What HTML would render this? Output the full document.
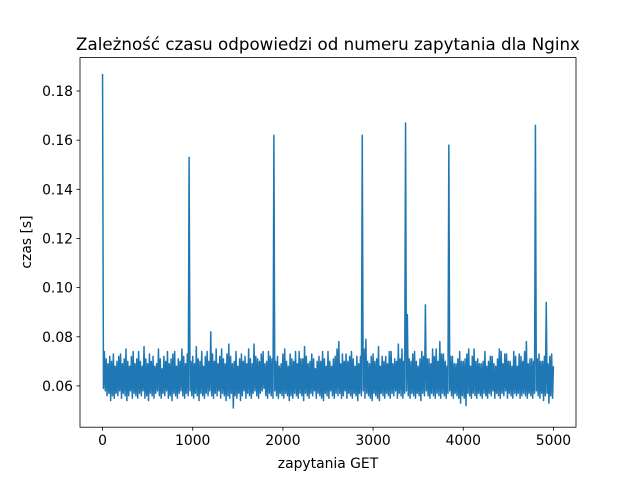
<!DOCTYPE html>
<html><head><meta charset="utf-8"><style>
body{margin:0;background:#fff;}
svg text{font-family:"DejaVu Sans","Liberation Sans",sans-serif;fill:#000;}
</style></head><body>
<svg id="chart" width="640" height="480" viewBox="0 0 640 480" xmlns="http://www.w3.org/2000/svg">
<rect width="640" height="480" fill="#fff"/>
<text x="328" y="50" font-size="16.7" text-anchor="middle">Zależność czasu odpowiedzi od numeru zapytania dla Nginx</text>
<g id="plot"></g>
<text x="328" y="468" font-size="13.9" text-anchor="middle">zapytania GET</text>
<text x="0" y="0" font-size="13.9" text-anchor="middle" transform="translate(31,242) rotate(-90)">czas [s]</text>
</svg>
<script>
const step = 20;
const highs = [
0.187,0.074,0.071,0.069,0.072,0.070,0.073,0.068,0.070,0.072,
0.073,0.069,0.071,0.075,0.070,0.068,0.072,0.074,0.069,0.071,
0.074,0.070,0.068,0.076,0.071,0.069,0.073,0.070,0.072,0.068,
0.069,0.075,0.071,0.067,0.072,0.070,0.074,0.069,0.071,0.073,
0.074,0.068,0.071,0.070,0.075,0.072,0.069,0.073,0.153,0.070,
0.072,0.069,0.076,0.071,0.070,0.074,0.068,0.072,0.074,0.070,
0.082,0.073,0.070,0.075,0.069,0.072,0.075,0.071,0.069,0.073,
0.077,0.072,0.069,0.070,0.074,0.068,0.071,0.073,0.070,0.072,
0.069,0.075,0.071,0.069,0.077,0.072,0.071,0.070,0.073,0.074,
0.069,0.070,0.074,0.072,0.071,0.162,0.070,0.072,0.068,0.069,
0.073,0.075,0.070,0.068,0.073,0.071,0.070,0.074,0.069,0.074,
0.071,0.071,0.076,0.072,0.069,0.070,0.073,0.071,0.067,0.070,
0.072,0.070,0.074,0.071,0.068,0.074,0.070,0.068,0.071,0.072,
0.075,0.078,0.069,0.073,0.070,0.073,0.070,0.072,0.074,0.071,
0.068,0.072,0.069,0.072,0.162,0.075,0.079,0.070,0.069,0.072,
0.073,0.070,0.071,0.076,0.068,0.072,0.070,0.072,0.069,0.074,
0.074,0.069,0.071,0.070,0.077,0.071,0.075,0.070,0.167,0.089,
0.071,0.070,0.073,0.074,0.070,0.068,0.071,0.074,0.072,0.093,
0.071,0.071,0.069,0.075,0.072,0.075,0.070,0.078,0.073,0.073,
0.070,0.068,0.158,0.072,0.072,0.069,0.069,0.071,0.074,0.070,
0.070,0.071,0.073,0.075,0.068,0.072,0.075,0.070,0.071,0.069,
0.069,0.070,0.074,0.068,0.070,0.072,0.072,0.069,0.068,0.071,
0.075,0.074,0.069,0.073,0.073,0.070,0.070,0.068,0.074,0.072,
0.068,0.073,0.072,0.070,0.074,0.078,0.069,0.071,0.071,0.070,
0.166,0.071,0.073,0.070,0.070,0.072,0.094,0.069,0.072,0.073,
0.068];
const lows = [
0.059,0.058,0.056,0.057,0.054,0.056,0.055,0.057,0.056,0.058,
0.055,0.057,0.056,0.054,0.056,0.058,0.055,0.057,0.056,0.055,
0.057,0.056,0.058,0.055,0.056,0.054,0.057,0.056,0.055,0.057,
0.058,0.056,0.055,0.057,0.056,0.058,0.055,0.056,0.054,0.057,
0.056,0.055,0.057,0.058,0.056,0.055,0.057,0.056,0.058,0.056,
0.055,0.057,0.056,0.054,0.057,0.056,0.055,0.057,0.056,0.058,
0.056,0.055,0.057,0.056,0.058,0.055,0.057,0.056,0.054,0.056,
0.055,0.057,0.051,0.056,0.055,0.057,0.054,0.056,0.058,0.055,
0.057,0.056,0.055,0.057,0.058,0.056,0.055,0.057,0.058,0.059,
0.056,0.055,0.057,0.056,0.055,0.058,0.056,0.055,0.057,0.056,
0.055,0.057,0.056,0.054,0.056,0.055,0.057,0.056,0.055,0.057,
0.056,0.054,0.057,0.056,0.055,0.057,0.056,0.058,0.055,0.057,
0.056,0.055,0.054,0.057,0.056,0.055,0.058,0.056,0.055,0.057,
0.056,0.057,0.055,0.056,0.058,0.055,0.057,0.056,0.055,0.057,
0.056,0.054,0.057,0.056,0.058,0.055,0.057,0.056,0.055,0.054,
0.057,0.056,0.055,0.054,0.057,0.056,0.055,0.057,0.056,0.055,
0.057,0.056,0.058,0.055,0.057,0.056,0.055,0.057,0.058,0.056,
0.055,0.057,0.056,0.055,0.057,0.056,0.054,0.057,0.056,0.058,
0.056,0.055,0.057,0.056,0.055,0.057,0.056,0.055,0.057,0.056,
0.055,0.057,0.058,0.056,0.055,0.057,0.056,0.055,0.053,0.056,
0.055,0.052,0.057,0.056,0.055,0.057,0.056,0.055,0.057,0.056,
0.055,0.057,0.056,0.055,0.057,0.056,0.058,0.055,0.057,0.056,
0.055,0.057,0.056,0.058,0.055,0.057,0.056,0.055,0.057,0.056,
0.057,0.055,0.056,0.057,0.056,0.055,0.057,0.056,0.055,0.057,
0.058,0.056,0.055,0.057,0.054,0.056,0.057,0.053,0.056,0.055,
0.058];
const xTicks = [0,1000,2000,3000,4000,5000];
const yTicks = [0.06,0.08,0.10,0.12,0.14,0.16,0.18];

const L=80,R=576,T=57.6,B=427.2;
const xMin=-250,xMax=5250,yMin=0.0432,yMax=0.1936;
const sx=v=>L+(v-xMin)/(xMax-xMin)*(R-L);
const sy=v=>B-(v-yMin)/(yMax-yMin)*(B-T);
const NS="http://www.w3.org/2000/svg";
const g=document.getElementById('plot');
function mk(tag,attrs){const e=document.createElementNS(NS,tag);for(const k in attrs)e.setAttribute(k,attrs[k]);g.appendChild(e);return e;}

let d='';
highs.forEach((v,i)=>{
  d+=(i?'L':'M')+sx(i*step).toFixed(2)+','+sy(v).toFixed(2);
  if(i<highs.length-1) d+='L'+sx(i*step+step/2).toFixed(2)+','+sy(lows[i]).toFixed(2);
});
const line=mk('path',{d:d,fill:'none',stroke:'#1f77b4','stroke-width':1.5,'stroke-linejoin':'round'});



const frame=mk('rect',{x:L,y:T,width:R-L,height:B-T,fill:'none',stroke:'#000','stroke-width':0.8});



xTicks.forEach(t=>{
  const x=sx(t);
  const tk=mk('line',{x1:x,x2:x,y1:B,y2:B+3.5,stroke:'#000','stroke-width':0.8});
  
  
  const tx=mk('text',{x:x,y:B+18,'font-size':13.9,'text-anchor':'middle'});
  tx.textContent=t;
  
  
});
yTicks.forEach(t=>{
  const y=sy(t);
  const tk=mk('line',{x1:L-3.5,x2:L,y1:y,y2:y,stroke:'#000','stroke-width':0.8});
  
  
  const tx=mk('text',{x:L-7,y:y+5,'font-size':13.9,'text-anchor':'end'});
  tx.textContent=t.toFixed(2);
  
  
});
</script>
</body></html>
